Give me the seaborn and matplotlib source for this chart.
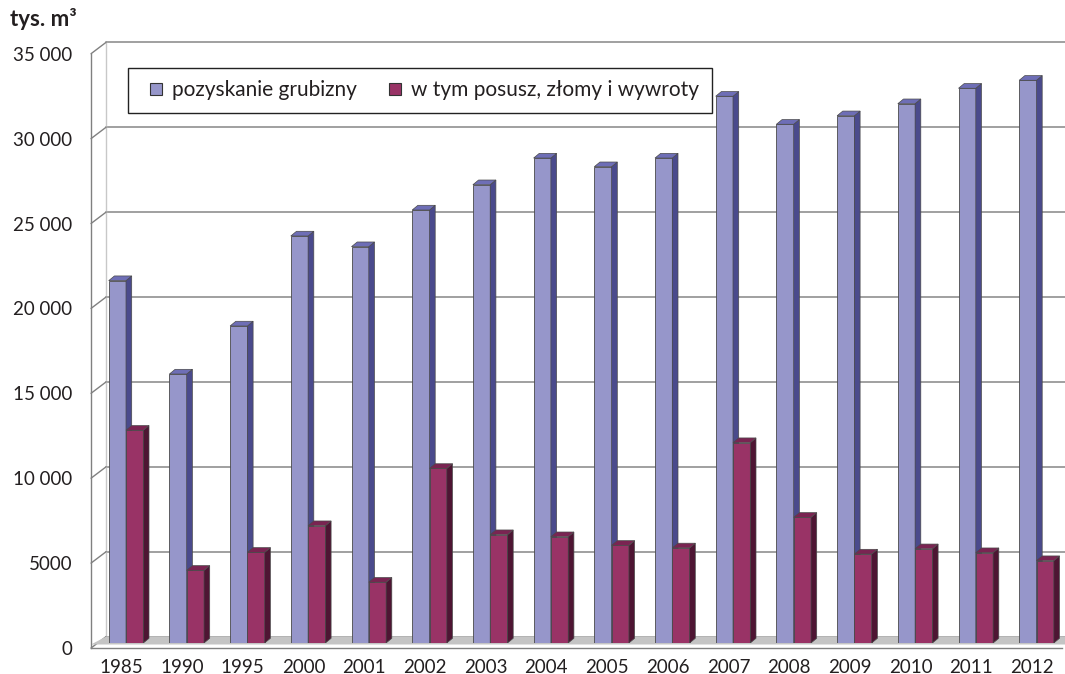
import numpy as np
import pandas as pd
import matplotlib
matplotlib.use("Agg")
import matplotlib.pyplot as plt
from matplotlib.patches import Polygon
from matplotlib.lines import Line2D
import seaborn as sns

# ---- data (tys. m3) ----
years = ["1985", "1990", "1995", "2000", "2001", "2002", "2003", "2004",
         "2005", "2006", "2007", "2008", "2009", "2010", "2011", "2012"]
harvest = [21340, 15840, 18670, 23970, 23340, 25500, 26990, 28560,
           28050, 28560, 32200, 30550, 31050, 31760, 32670, 33140]
damaged = [12530, 4280, 5340, 6910, 3580, 10280, 6380, 6260,
           5750, 5600, 11800, 7400, 5240, 5550, 5320, 4850]
series_names = ["pozyskanie grubizny", "w tym posusz, złomy i wywroty"]
y_ticks = [0, 5000, 10000, 15000, 20000, 25000, 30000, 35000]
y_tick_labels = ["0", "5000", "10 000", "15 000", "20 000", "25 000", "30 000", "35 000"]
unit_label = "tys. m³"

# ---- style ----
front_colors = ["#9696CA", "#993366"]
side_colors = ["#4A4A8C", "#4E1533"]
top_colors = ["#6E6EB6", "#7A2452"]
edge_col = "#4a4a4a"
axis_col = "#808080"
text_col = "#231f20"

sns.set_style("white")
plt.rcParams["font.family"] = ["Lato", "DejaVu Sans"]

W, H = 1065, 674
fig = plt.figure(figsize=(W / 100, H / 100), dpi=100)

# geometry of the bar plane (pixels)
slot = 60.7
n = len(years)
plane_left, plane_bottom = 95.65, 31.0
plane_w, plane_h = slot * n, 594.3
ymax = 35000

front_off = (-4.6, -5.0)   # front (axis) plane relative to bars
back_off = (10.6, 6.5)     # back wall relative to bars
depth = (5.7, 4.7)         # extrusion of each column

ax = fig.add_axes([plane_left / W, plane_bottom / H, plane_w / W, plane_h / H])

df = pd.DataFrame({
    "year": years * 2,
    "value": harvest + damaged,
    "series": [series_names[0]] * n + [series_names[1]] * n,
})
sns.barplot(data=df, x="year", y="value", hue="series", order=years,
            hue_order=series_names, palette=front_colors, saturation=1,
            width=0.57, edgecolor=edge_col, linewidth=0.6, legend=False,
            errorbar=None, ax=ax)
ax.set_xlim(-0.5, n - 0.5)
ax.set_ylim(0, ymax)
ax.set_axis_off()

# pixel -> data unit conversion on the bar plane
ux = 1.0 / slot
uy = ymax / plane_h

def shift(xs, ys, off):
    return [x + off[0] * ux for x in xs], [y + off[1] * uy for y in ys]

# back wall grid lines and edges
for v in y_ticks:
    xs, ys = shift([-0.5, n - 0.5 + 1], [v, v], back_off)
    ax.plot(xs, ys, color="#999999", lw=1.3, zorder=0.5, clip_on=False)
xs, ys = shift([-0.5, -0.5], [0, ymax], back_off)
ax.plot(xs, ys, color="#c8c8c8", lw=1.0, zorder=0.5, clip_on=False)

# connectors between front ticks and back wall
for v in y_ticks:
    fx, fy = shift([-0.5], [v], front_off)
    bx, by = shift([-0.5], [v], back_off)
    ax.plot([fx[0], bx[0]], [fy[0], by[0]], color=axis_col, lw=1.0,
            zorder=0.6, clip_on=False)

# floor
fl_x, fl_y = shift([-0.5, n - 0.5 + 1], [0, 0], back_off)
fr_x, fr_y = shift([-0.5, n - 0.5 + 1], [0, 0], (front_off[0], -1.5))
floor = Polygon([(fr_x[0], fr_y[0]), (fr_x[1], fr_y[1]), (fl_x[1], fl_y[1]),
                 (fl_x[0], fl_y[0])], closed=True, facecolor="#c4c4c4",
                edgecolor="none", zorder=0.8, clip_on=False)
ax.add_patch(floor)

# extrude every column into a box
dx, dy = depth[0] * ux, depth[1] * uy
for k, cont in enumerate(ax.containers):
    z = 2 + k
    for p in cont.patches:
        p.set_zorder(z)
        x0, w, h = p.get_x(), p.get_width(), p.get_height()
        x1 = x0 + w
        side = Polygon([(x1, 0), (x1, h), (x1 + dx, h + dy), (x1 + dx, dy)],
                       closed=True, facecolor=side_colors[k], edgecolor=edge_col,
                       lw=0.5, zorder=z)
        top = Polygon([(x0, h), (x1, h), (x1 + dx, h + dy), (x0 + dx, h + dy)],
                      closed=True, facecolor=top_colors[k], edgecolor=edge_col,
                      lw=0.5, zorder=z)
        ax.add_patch(side)
        ax.add_patch(top)

# front axes carrying ticks and labels
axf = fig.add_axes([(plane_left + front_off[0]) / W,
                    (plane_bottom + front_off[1]) / H, plane_w / W, plane_h / H])
axf.set_xlim(-0.5, n - 0.5)
axf.set_ylim(0, ymax)
axf.patch.set_visible(False)
for s in ["top", "right"]:
    axf.spines[s].set_visible(False)
for s in ["left", "bottom"]:
    axf.spines[s].set_color(axis_col)
    axf.spines[s].set_linewidth(1.0)
axf.set_yticks(y_ticks)
axf.set_yticklabels(y_tick_labels)
axf.set_xticks(range(n))
axf.set_xticklabels(years)
axf.set_xticks(np.arange(-0.5, n, 1.0), minor=True)
axf.tick_params(axis="y", direction="out", length=6.5, width=1.0, color=axis_col,
                pad=7, labelsize=13.5, labelcolor=text_col)
axf.tick_params(axis="x", which="major", length=0, pad=8, labelsize=13.5,
                labelcolor=text_col)
axf.tick_params(axis="x", which="minor", direction="out", length=6.5, width=1.0,
                color=axis_col)

# unit label
fig.text(10 / W, 1 - 26 / H, unit_label, fontsize=16, fontweight="bold",
         color=text_col, va="baseline", ha="left")

# legend
handles = [Line2D([], [], linestyle="none", marker="s", markersize=9,
                  markerfacecolor=front_colors[i], markeredgecolor="#333333",
                  markeredgewidth=0.8) for i in range(2)]
fig.legend(handles, series_names, loc="upper left",
           bbox_to_anchor=(128 / W, 1 - 67.5 / H), ncol=2, frameon=True,
           fancybox=False, edgecolor="#222222", framealpha=1, fontsize=15,
           handlelength=1.4, handletextpad=0.1, columnspacing=1.1,
           borderpad=0.62, borderaxespad=0, labelcolor=text_col)
fig.legends[0].get_frame().set_linewidth(1.0)

fig.savefig("out.png", dpi=100)
